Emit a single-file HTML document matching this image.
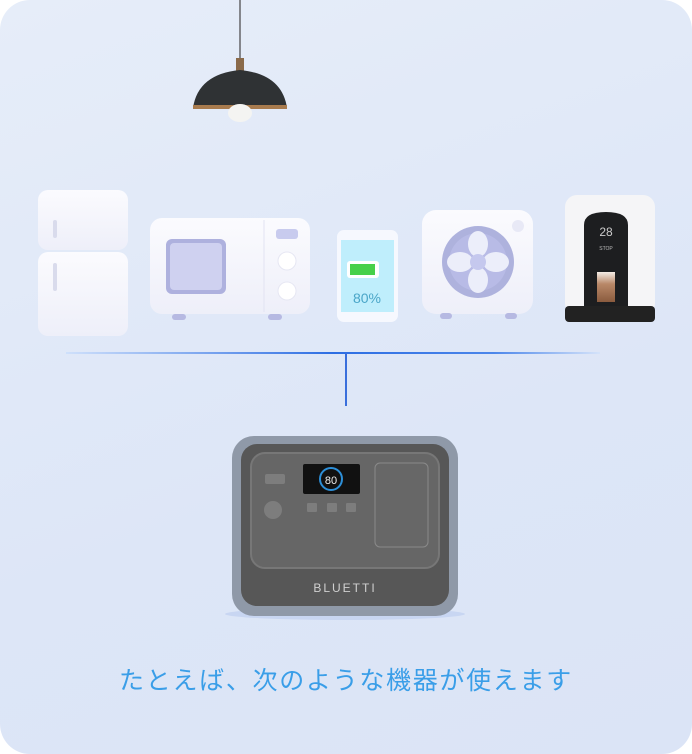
<!DOCTYPE html>
<html><head><meta charset="utf-8"><style>
body{margin:0;width:692px;height:754px;background:#fff;overflow:hidden;font-family:"Liberation Sans","Noto Sans CJK JP",sans-serif}
.card{position:absolute;left:0;top:0;width:692px;height:754px;border-radius:30px;background:linear-gradient(160deg,#e6edf9 0%,#dde6f7 60%,#dbe4f6 100%)}
.a{position:absolute}
</style></head><body>
<div class="card"></div>
<svg class="a" style="left:0;top:0" width="692" height="754">
<defs>
<linearGradient id="ln" x1="0" x2="1"><stop offset="0" stop-color="#cfe0fb"/><stop offset=".5" stop-color="#2d6ee3"/><stop offset=".8" stop-color="#4b86ea"/><stop offset="1" stop-color="#d5e3fa"/></linearGradient>
<linearGradient id="wh" x1="0" y1="0" x2="0" y2="1"><stop offset="0" stop-color="#fbfbfe"/><stop offset="1" stop-color="#eeeff9"/></linearGradient>
<linearGradient id="cof" x1="0" y1="0" x2="0" y2="1"><stop offset="0" stop-color="#f4ede6"/><stop offset=".4" stop-color="#b98868"/><stop offset="1" stop-color="#8a5b3e"/></linearGradient>
</defs>
<line x1="240" y1="0" x2="240" y2="62" stroke="#444" stroke-width="1.2"/>
<rect x="236" y="58" width="8" height="14" fill="#8a6a4a"/>
<path d="M193 108 Q198 74 240 70 Q282 74 287 108 Z" fill="#2f3234"/>
<rect x="193" y="105" width="94" height="4" fill="#a87b4e"/>
<ellipse cx="240" cy="113" rx="12" ry="9" fill="#f4f4f2"/>
<rect x="38" y="190" width="90" height="60" rx="10" fill="url(#wh)"/>
<rect x="38" y="252" width="90" height="84" rx="10" fill="url(#wh)"/>
<rect x="53" y="220" width="4" height="18" rx="2" fill="#d9dbec"/>
<rect x="53" y="263" width="4" height="28" rx="2" fill="#d9dbec"/>
<rect x="150" y="218" width="160" height="96" rx="12" fill="url(#wh)"/>
<line x1="264" y1="220" x2="264" y2="312" stroke="#e2e3f2"/>
<rect x="166" y="239" width="60" height="55" rx="6" fill="#aeb1de"/>
<rect x="170" y="243" width="52" height="47" rx="4" fill="#cfd1f0"/>
<rect x="276" y="229" width="22" height="10" rx="3" fill="#c8cbee"/>
<circle cx="287" cy="261" r="9" fill="#fff" stroke="#e6e7f3"/>
<circle cx="287" cy="291" r="9" fill="#fff" stroke="#e6e7f3"/>
<rect x="172" y="314" width="14" height="6" rx="3" fill="#b6b9e2"/>
<rect x="268" y="314" width="14" height="6" rx="3" fill="#b6b9e2"/>
<rect x="337" y="230" width="61" height="92" rx="7" fill="#f6f8fe"/>
<rect x="341" y="240" width="53" height="72" fill="#bfeefc"/>
<rect x="347" y="261" width="32" height="17" rx="3" fill="#fff"/>
<rect x="350" y="264" width="25" height="11" fill="#46d04a"/>
<text x="367" y="303" font-size="14" fill="#4aa6c8" text-anchor="middle">80%</text>
<rect x="422" y="210" width="111" height="104" rx="14" fill="url(#wh)"/>
<circle cx="478" cy="262" r="36" fill="#aeb2dd"/>
<circle cx="478" cy="262" r="29" fill="#b8bbe6"/>
<g fill="#eceefa">
<ellipse cx="478" cy="244" rx="10" ry="13"/><ellipse cx="478" cy="280" rx="10" ry="13"/>
<ellipse cx="460" cy="262" rx="13" ry="10"/><ellipse cx="496" cy="262" rx="13" ry="10"/>
</g>
<circle cx="478" cy="262" r="8" fill="#c5c8ee"/>
<circle cx="518" cy="226" r="6" fill="#e8e9f6"/>
<rect x="440" y="313" width="12" height="6" rx="3" fill="#b6b9e2"/>
<rect x="505" y="313" width="12" height="6" rx="3" fill="#b6b9e2"/>
<rect x="565" y="195" width="90" height="120" rx="12" fill="#f5f5f7"/>
<path d="M584 225 Q584 212 606 212 Q628 212 628 225 L628 308 L584 308 Z" fill="#1d1e20"/>
<text x="606" y="236" font-size="12" fill="#ccc" text-anchor="middle">28</text>
<text x="606" y="250" font-size="5" fill="#bbb" text-anchor="middle">STOP</text>
<rect x="597" y="272" width="18" height="30" fill="url(#cof)"/>
<rect x="565" y="306" width="90" height="16" rx="4" fill="#222"/>
<rect x="66" y="352" width="534" height="2" fill="url(#ln)"/>
<rect x="345" y="353" width="2" height="53" fill="#3a6fdc"/>
<ellipse cx="345" cy="614" rx="120" ry="6" fill="#c8d6f2"/>
<rect x="232" y="436" width="226" height="180" rx="22" fill="#8f99a8"/>
<rect x="241" y="444" width="208" height="162" rx="16" fill="#575757"/>
<rect x="251" y="453" width="188" height="115" rx="14" fill="#666" stroke="#777" stroke-width="2"/>
<rect x="303" y="464" width="57" height="30" rx="2" fill="#111"/>
<circle cx="331" cy="479" r="11" fill="none" stroke="#2d8fd8" stroke-width="2"/>
<text x="331" y="484" font-size="11" fill="#eee" text-anchor="middle">80</text>
<rect x="375" y="463" width="53" height="84" rx="5" fill="#676767" stroke="#8a8a8a"/>
<rect x="265" y="474" width="20" height="10" rx="2" fill="#7d7d7d"/>
<circle cx="273" cy="510" r="9" fill="#7d7d7d"/>
<rect x="307" y="503" width="10" height="9" rx="1" fill="#7d7d7d"/>
<rect x="327" y="503" width="10" height="9" rx="1" fill="#7d7d7d"/>
<rect x="346" y="503" width="10" height="9" rx="1" fill="#7d7d7d"/>
<text x="345" y="592" font-size="12" letter-spacing="2" fill="#d0d0d0" text-anchor="middle">BLUETTI</text>
</svg>
<div class="a" style="left:0;width:692px;top:661px;text-align:center;font-size:25px;letter-spacing:1.7px;color:#3a9ee8">たとえば、次のような機器が使えます</div>
</body></html>
